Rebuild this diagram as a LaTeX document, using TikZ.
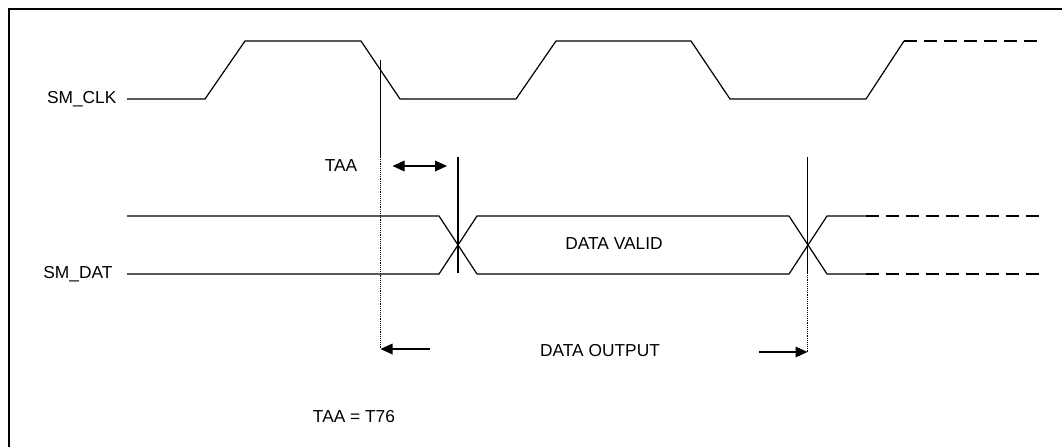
\documentclass[tikz,border=0pt]{standalone}
\usepackage{fontspec}
\setmainfont{Liberation Sans}
\usetikzlibrary{arrows.meta,positioning}

\begin{document}
\begin{tikzpicture}[x=0.75pt,y=-0.75pt,font=\fontsize{13}{15}\selectfont,
  wave/.style={line width=0.9pt},
  ext/.style={line width=0.9pt,dash pattern=on 10pt off 5pt},
  guide/.style={line width=0.4pt,densely dotted},
  dim/.style={line width=0.9pt,-{Triangle[length=9pt,width=8pt]}}]
  \useasboundingbox (0,0) rectangle (1062,447);
  % frame (only top and left edges show)
  \draw[line width=2pt] (9,447) -- (9,9) -- (1062,9);
  % clock
  \node[anchor=east,inner sep=1pt] (clk) at (118,99) {SM\_CLK};
  \draw[wave] (127,99) -- (205,99) -- (245,41) -- (361,41) -- (400,99) -- (516,99)
    -- (556,41) -- (691,41) -- (730,99) -- (866,99) -- (904,41) coordinate (clkend);
  \draw[ext] (clkend) -- (1040,41);
  % data
  \node[anchor=east,inner sep=1pt] (dat) at (114,274) {SM\_DAT};
  \draw[wave] (127,216) -- (439,216) -- (477,274) -- (789,274) -- (827,216) -- (866,216) coordinate (hiend);
  \draw[wave] (127,274) -- (439,274) -- (477,216) -- (789,216) -- (827,274) -- (866,274) coordinate (loend);
  \draw[ext] (hiend) -- (1040,216);
  \draw[ext] (loend) -- (1040,274);
  \node (valid) at (614,244) {DATA VALID};
  % timing markers
  \coordinate (fall) at (380.5,60);
  \coordinate (fallb) at (380.5,157);
  \coordinate (fallc) at (380.5,349);
  \coordinate (valA) at (458,157);
  \coordinate (valAb) at (458,273);
  \coordinate (valB) at (807.5,157);
  \coordinate (valBb) at (807.5,273);
  \coordinate (valBc) at (807.5,352);
  \draw[wave] (fall) -- (fallb);
  \draw[guide] (fallb) -- (fallc);
  \draw[wave] (valA) -- (valAb);
  \draw[wave] (valB) -- (valBb);
  \draw[guide] (valBb) -- (valBc);
  % TAA
  \node (taa) at (341,166) {TAA};
  \draw[dim,{Triangle[length=9pt,width=8pt]}-{Triangle[length=9pt,width=8pt]}] (392.5,166) -- (447,166);
  % data output
  \node (dout) at (600,351) {DATA OUTPUT};
  \draw[dim] (430,349) -- (fallc);
  \draw[dim] (759,352) -- (valBc);
  \node (eq) at (354,417) {TAA = T76};
\end{tikzpicture}
\end{document}
